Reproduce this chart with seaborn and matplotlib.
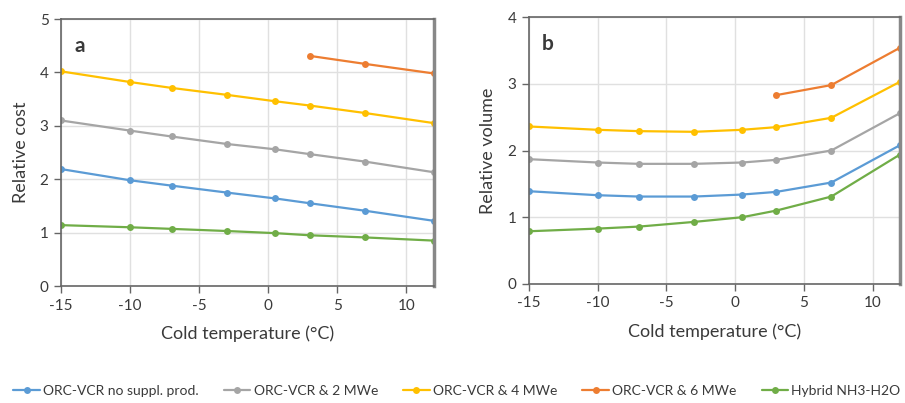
import pandas as pd
import matplotlib
matplotlib.use("Agg")
import matplotlib.pyplot as plt
import seaborn as sns

temps = [-15, -10, -7, -3, 0.5, 3, 7, 12]
temps_6mw = [3, 7, 12]

series = ["ORC-VCR no suppl. prod.", "ORC-VCR & 2 MWe", "ORC-VCR & 4 MWe",
          "ORC-VCR & 6 MWe", "Hybrid NH3-H2O"]
colors = ["#5B9BD5", "#A5A5A5", "#FFC000", "#ED7D31", "#70AD47"]

# panel a: relative cost
cost_none = [2.19, 1.98, 1.88, 1.75, 1.64, 1.55, 1.41, 1.22]
cost_2mw = [3.10, 2.91, 2.80, 2.66, 2.56, 2.47, 2.33, 2.13]
cost_4mw = [4.02, 3.82, 3.71, 3.58, 3.46, 3.38, 3.24, 3.05]
cost_6mw = [4.31, 4.16, 3.98]
cost_hybrid = [1.14, 1.10, 1.07, 1.03, 0.99, 0.95, 0.91, 0.85]

# panel b: relative volume
vol_none = [1.39, 1.33, 1.31, 1.31, 1.34, 1.38, 1.52, 2.08]
vol_2mw = [1.87, 1.82, 1.80, 1.80, 1.82, 1.86, 2.00, 2.56]
vol_4mw = [2.36, 2.31, 2.29, 2.28, 2.31, 2.35, 2.49, 3.03]
vol_6mw = [2.83, 2.98, 3.54]
vol_hybrid = [0.79, 0.83, 0.86, 0.93, 1.00, 1.10, 1.31, 1.94]


def build_frame(values):
    frames = []
    for name, vals in zip(series, values):
        xs = temps_6mw if len(vals) == 3 else temps
        frames.append(pd.DataFrame({"T": xs, "v": vals, "Series": name}))
    return pd.concat(frames, ignore_index=True)


cost_df = build_frame([cost_none, cost_2mw, cost_4mw, cost_6mw, cost_hybrid])
vol_df = build_frame([vol_none, vol_2mw, vol_4mw, vol_6mw, vol_hybrid])

sns.set_style("whitegrid")
plt.rcParams["font.family"] = ["Lato", "DejaVu Sans"]
plt.rcParams["axes.unicode_minus"] = False

fig = plt.figure(figsize=(9.05, 4.03), dpi=100)
ax1 = fig.add_axes([0.0674, 0.2903, 0.4122, 0.6625])
ax2 = fig.add_axes([0.5845, 0.2953, 0.4100, 0.6625])

panels = [(ax1, cost_df, "Relative cost", 5, "a"),
          (ax2, vol_df, "Relative volume", 4, "b")]

text_col = "#3a3a3a"
for ax, df, ylabel, ymax, tag in panels:
    sns.lineplot(data=df, x="T", y="v", hue="Series", hue_order=series,
                 palette=colors, marker="o", markersize=5, markeredgewidth=0,
                 linewidth=1.6, ax=ax, legend=(tag == "a"), sort=False)
    ax.set_xlim(-15, 12)
    ax.set_ylim(0, ymax)
    ax.set_xticks([-15, -10, -5, 0, 5, 10])
    ax.set_yticks(range(0, ymax + 1))
    ax.set_xlabel("Cold temperature (°C)", fontsize=13, color=text_col,
                  labelpad=9)
    ax.set_ylabel(ylabel, fontsize=13, color=text_col, labelpad=8)
    ax.tick_params(bottom=True, left=True, labelsize=11, labelcolor=text_col,
                   length=5, width=1, color="#666666", pad=4)
    ax.grid(color="#E0E0E0", linewidth=1)
    for side in ["left", "bottom", "top"]:
        ax.spines[side].set_color("#666666")
        ax.spines[side].set_linewidth(1.2)
    ax.spines["right"].set_color("#888888")
    ax.spines["right"].set_linewidth(2.5)
    ax.text(0.035, 0.9, tag, transform=ax.transAxes, fontsize=15,
            fontweight="bold", color=text_col, va="center")

handles, labels = ax1.get_legend_handles_labels()
ax1.get_legend().remove()
fig.legend(handles, labels, loc="center", bbox_to_anchor=(0.505, 0.03),
           ncol=5, frameon=False, fontsize=10, handlelength=1.9,
           columnspacing=1.8, handletextpad=0.25, labelcolor=text_col)

fig.savefig("out.png", dpi=100)
